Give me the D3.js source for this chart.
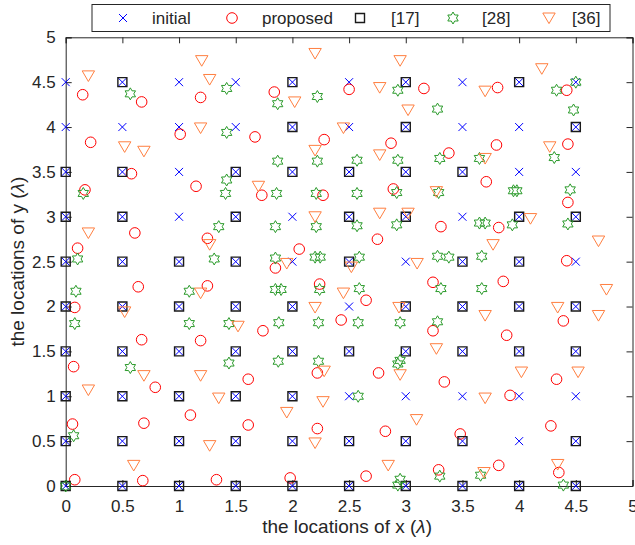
<!DOCTYPE html>
<html>
<head>
<meta charset="utf-8">
<script src="https://cdn.jsdelivr.net/npm/d3@7/dist/d3.min.js"></script>
<style>
  body { margin: 0; background: #fff; }
  text { font-family: "Liberation Sans", Arial, Helvetica, sans-serif; fill: #262626; }
</style>
</head>
<body>
<svg id="chart" width="635" height="545"></svg>
<script>
// Axis ticks (both axes share the same 0..5 range)
const tickValues = [0, 0.5, 1, 1.5, 2, 2.5, 3, 3.5, 4, 4.5, 5];
const tickLabels = ["0", "0.5", "1", "1.5", "2", "2.5", "3", "3.5", "4", "4.5", "5"];

// Series names shown in the legend
const seriesNames = ["initial", "proposed", "[17]", "[28]", "[36]"];

// Initial element positions, row by row (y = 4.5 down to 0)
const initialPts = [
  [0,4.5],[0.5,4.5],[1,4.5],[1.5,4.5],[2,4.5],[2.5,4.5],[3,4.5],[3.5,4.5],[4,4.5],[4.5,4.5],
  [0,4],[0.5,4],[1,4],[1.5,4],[2,4],[2.5,4],[3,4],[3.5,4],[4,4],[4.5,4],
  [0,3.5],[0.5,3.5],[1,3.5],[1.5,3.5],[2,3.5],[2.5,3.5],[3,3.5],[3.5,3.5],[4,3.5],[4.5,3.5],
  [0,3],[0.5,3],[1,3],[1.5,3],[2,3],[2.5,3],[3,3],[3.5,3],[4,3],[4.5,3],
  [0,2.5],[0.5,2.5],[1,2.5],[1.5,2.5],[2,2.5],[2.5,2.5],[3,2.5],[3.5,2.5],[4,2.5],[4.5,2.5],
  [0,2],[0.5,2],[1,2],[1.5,2],[2,2],[2.5,2],[3,2],[3.5,2],[4,2],[4.5,2],
  [0,1.5],[0.5,1.5],[1,1.5],[1.5,1.5],[2,1.5],[2.5,1.5],[3,1.5],[3.5,1.5],[4,1.5],[4.5,1.5],
  [0,1],[0.5,1],[1,1],[1.5,1],[2,1],[2.5,1],[3,1],[3.5,1],[4,1],[4.5,1],
  [0,0.5],[0.5,0.5],[1,0.5],[1.5,0.5],[2,0.5],[2.5,0.5],[3,0.5],[3.5,0.5],[4,0.5],[4.5,0.5],
  [0,0],[0.5,0],[1,0],[1.5,0],[2,0],[2.5,0],[3,0],[3.5,0],[4,0],[4.5,0]
];

// Proposed element positions
const proposedPts = [
  [0.15,4.36],[0.67,4.28],[1.19,4.33],[0.22,3.83],[1.01,3.92],[1.67,3.89],[0.58,3.48],
  [1.15,3.34],[0.17,3.30],[1.84,4.39],[2.50,4.42],[3.16,4.43],[2.28,3.86],[2.87,3.82],
  [3.38,3.71],[3.81,4.44],[4.42,4.41],[3.80,3.80],[4.43,3.81],[3.71,3.39],[0.61,2.82],
  [0.105,2.65],[1.25,2.76],[0.64,2.22],[1.25,2.23],[0.08,1.99],[0.67,1.63],[1.19,1.62],
  [1.73,3.24],[2.27,3.24],[2.89,3.31],[2.75,2.75],[3.31,2.89],[2.06,2.64],[1.85,2.43],
  [2.24,2.25],[2.65,2.07],[3.24,2.27],[2.43,1.85],[1.74,1.73],[3.24,1.73],[4.43,3.16],
  [3.82,2.88],[4.42,2.51],[3.86,2.28],[4.39,1.84],[3.89,1.68],[0.07,1.33],[0.79,1.10],
  [1.61,1.19],[0.69,0.70],[1.10,0.79],[0.06,0.69],[1.61,0.68],[0.08,0.07],[0.68,0.06],
  [1.33,0.07],[2.22,1.26],[2.76,1.26],[3.34,1.16],[2.22,0.64],[2.82,0.61],[1.98,0.09],
  [2.65,0.11],[3.29,0.18],[4.33,1.19],[3.92,1.01],[4.28,0.67],[3.48,0.58],[3.82,0.23],
  [4.35,0.15]
];

// Positions from reference [17]
const ref17Pts = [
  [0.5,4.5],[2,4.5],[3,4.5],[4,4.5],
  [2,4],[3,4],[4.5,4],
  [0,3.5],[0.5,3.5],[1.5,3.5],[2,3.5],[2.5,3.5],[3,3.5],[3.5,3.5],
  [0,3],[0.5,3],[1.5,3],[2.5,3],[3,3],[4,3],[4.5,3],
  [0,2.5],[0.5,2.5],[1,2.5],[1.5,2.5],[2.5,2.5],[3.5,2.5],[4,2.5],
  [0,2],[0.5,2],[1,2],[1.5,2],[2,2],[3,2],[3.5,2],[4,2],[4.5,2],
  [0,1.5],[0.5,1.5],[1,1.5],[1.5,1.5],[2,1.5],[2.5,1.5],[3,1.5],[3.5,1.5],[4,1.5],[4.5,1.5],
  [0,1],[0.5,1],[1,1],[1.5,1],[2,1],
  [0,0.5],[0.5,0.5],[1,0.5],[1.5,0.5],[2,0.5],[2.5,0.5],[3,0.5],[3.5,0.5],[4.5,0.5],
  [0,0],[0.5,0],[1,0],[1.5,0],[2,0],[2.5,0],[3,0],[3.5,0],[4,0],[4.5,0]
];

// Positions from reference [28]
const ref28Pts = [
  [0.57,4.37],[1.42,4.43],[1.42,3.94],[1.42,3.41],[0.155,3.26],[1.87,4.26],[2.22,4.34],
  [2.93,4.41],[3.28,4.20],[1.87,3.62],[2.22,3.62],[2.57,3.63],[2.93,3.63],[3.30,3.65],
  [4.33,4.41],[4.50,4.50],[4.48,4.19],[3.65,3.65],[4.31,3.66],[3.95,3.29],[3.98,3.29],
  [4.45,3.30],[1.41,3.26],[0.105,2.53],[1.35,2.89],[1.31,2.53],[0.09,2.17],[1.09,2.17],
  [0.08,1.81],[1.09,1.81],[1.44,1.81],[1.86,3.26],[2.21,3.26],[2.57,3.26],[2.92,3.27],
  [3.29,3.27],[1.85,2.89],[2.21,2.89],[2.57,2.90],[2.92,2.91],[1.85,2.54],[2.20,2.55],
  [2.245,2.55],[2.59,2.55],[3.28,2.56],[3.38,2.55],[1.85,2.19],[1.90,2.19],[2.24,2.19],
  [2.59,2.20],[3.31,2.20],[1.88,1.82],[2.23,1.82],[2.58,1.82],[2.95,1.82],[3.28,1.83],
  [3.65,2.93],[3.70,2.93],[3.94,2.91],[4.43,2.92],[3.67,2.56],[3.67,2.20],[0.57,1.32],
  [1.44,1.37],[0.07,0.56],[0,0],[1.875,1.39],[2.23,1.39],[2.95,1.40],[2.93,1.36],
  [2.58,1.00],[3.30,0.11],[2.95,0.075],[2.93,0.01],[3.66,0.12],[4.39,0.01]
];

// Positions from reference [36]
const ref36Pts = [
  [0.20,4.57],[1.20,4.74],[1.27,4.53],[0.52,3.78],[0.69,3.73],[1.19,3.99],[1.70,3.34],
  [2.20,4.82],[2.95,4.74],[2.02,4.28],[2.77,4.44],[3.02,4.19],[2.45,3.99],[2.20,3.74],
  [2.77,3.69],[3.70,4.40],[4.20,4.65],[3.70,3.65],[4.27,3.78],[0.20,2.82],[1.27,2.69],
  [1.19,2.15],[0.52,1.94],[1.52,1.78],[3.02,3.04],[2.20,3.00],[2.77,3.04],[1.95,2.48],
  [2.52,2.44],[3.10,2.48],[2.45,2.15],[2.94,1.99],[2.20,1.99],[3.27,3.28],[4.10,2.98],
  [3.77,2.69],[4.70,2.73],[4.77,2.19],[4.34,1.99],[3.70,1.90],[4.70,1.90],[0.69,1.23],
  [1.19,1.23],[0.20,1.07],[1.35,0.98],[1.27,0.45],[0.60,0.23],[2.28,1.28],[2.95,1.24],
  [3.27,1.53],[2.27,0.94],[1.95,0.82],[3.095,0.74],[2.20,0.48],[2.845,0.23],[4.02,1.27],
  [4.52,1.27],[3.70,0.98],[3.69,0.15],[4.34,0.24]
];

const svg = d3.select("#chart");
const plot = { left: 65.7, right: 632.5, top: 37.3, bottom: 486 };

const x = d3.scaleLinear().domain([0, 5]).range([plot.left, plot.right]);
const y = d3.scaleLinear().domain([0, 5]).range([plot.bottom, plot.top]);

const axisColor = "#262626";
const tickFmt = (d) => tickLabels[tickValues.indexOf(d)];

// Marker shapes (centered at the origin)
const markers = {
  cross: "M-4,-4L4,4M-4,4L4,-4",
  square: "M-4.5,-4.5H4.5V4.5H-4.5Z",
  triangle: "M-6.2,-5H6.2L0,5.6Z",
  hexagram: (() => {
    const R = 6, r = R / Math.sqrt(3), pts = [];
    for (let i = 0; i < 12; i++) {
      const a = -Math.PI / 2 + i * Math.PI / 6;
      const rad = i % 2 === 0 ? R : r;
      pts.push([rad * Math.cos(a), rad * Math.sin(a)]);
    }
    return "M" + pts.map(p => p[0].toFixed(2) + "," + p[1].toFixed(2)).join("L") + "Z";
  })()
};

const styles = [
  { name: seriesNames[0], data: initialPts, kind: "path", d: markers.cross, color: "#0000ff", width: 1 },
  { name: seriesNames[1], data: proposedPts, kind: "circle", r: 5.3, color: "#ff0000", width: 1 },
  { name: seriesNames[2], data: ref17Pts, kind: "path", d: markers.square, color: "#1a1a1a", width: 1.4 },
  { name: seriesNames[3], data: ref28Pts, kind: "path", d: markers.hexagram, color: "#2a9a2a", width: 1 },
  { name: seriesNames[4], data: ref36Pts, kind: "path", d: markers.triangle, color: "#ff7f40", width: 1 }
];

// Axes: ticks point inward on all four sides
const gx = svg.append("g").attr("transform", `translate(0,${plot.bottom})`)
  .call(d3.axisBottom(x).tickValues(tickValues).tickFormat(tickFmt).tickSize(-6).tickPadding(14));
const gxTop = svg.append("g").attr("transform", `translate(0,${plot.top})`)
  .call(d3.axisTop(x).tickValues(tickValues).tickFormat("").tickSize(-6));
const gy = svg.append("g").attr("transform", `translate(${plot.left},0)`)
  .call(d3.axisLeft(y).tickValues(tickValues).tickFormat(tickFmt).tickSize(-6).tickPadding(10));
const gyRight = svg.append("g").attr("transform", `translate(${plot.right},0)`)
  .call(d3.axisRight(y).tickValues(tickValues).tickFormat("").tickSize(-6));

[gx, gxTop, gy, gyRight].forEach(g => {
  g.select(".domain").attr("stroke", axisColor).attr("stroke-width", 1);
  g.selectAll(".tick line").attr("stroke", axisColor).attr("stroke-width", 1);
  g.selectAll(".tick text").attr("fill", axisColor)
    .style("font-size", "17px").style("font-family", "'Liberation Sans', Arial, sans-serif");
});

// Data marks
const marks = svg.append("g");
styles.forEach(s => {
  const g = marks.append("g");
  if (s.kind === "circle") {
    g.selectAll("circle").data(s.data).join("circle")
      .attr("cx", d => x(d[0])).attr("cy", d => y(d[1])).attr("r", s.r)
      .attr("fill", "none").attr("stroke", s.color).attr("stroke-width", s.width);
  } else {
    g.selectAll("path").data(s.data).join("path")
      .attr("d", s.d)
      .attr("transform", d => `translate(${x(d[0])},${y(d[1])})`)
      .attr("fill", "none").attr("stroke", s.color).attr("stroke-width", s.width);
  }
});

// Axis titles
const xt = svg.append("text")
  .attr("x", (plot.left + plot.right) / 2 - 2).attr("y", 533)
  .attr("text-anchor", "middle").style("font-size", "19px");
xt.append("tspan").text("the locations of x (");
xt.append("tspan").style("font-style", "italic").text("λ");
xt.append("tspan").text(")");

const yt = svg.append("text")
  .attr("transform", `translate(24,${(plot.top + plot.bottom) / 2}) rotate(-90)`)
  .attr("text-anchor", "middle").style("font-size", "19px");
yt.append("tspan").text("the locations of y (");
yt.append("tspan").style("font-style", "italic").text("λ");
yt.append("tspan").text(")");

// Legend
const legend = svg.append("g");
legend.append("rect").attr("x", 92).attr("y", 4.5).attr("width", 518).attr("height", 27)
  .attr("fill", "#fff").attr("stroke", axisColor).attr("stroke-width", 1);
const legendItems = [
  { mx: 123, tx: 152 },
  { mx: 232, tx: 262 },
  { mx: 360, tx: 391 },
  { mx: 453, tx: 482 },
  { mx: 549, tx: 572 }
];
styles.forEach((s, i) => {
  const it = legendItems[i], cy = 18;
  if (s.kind === "circle") {
    legend.append("circle").attr("cx", it.mx).attr("cy", cy).attr("r", s.r)
      .attr("fill", "none").attr("stroke", s.color).attr("stroke-width", s.width);
  } else {
    legend.append("path").attr("d", s.d).attr("transform", `translate(${it.mx},${cy})`)
      .attr("fill", "none").attr("stroke", s.color).attr("stroke-width", s.width);
  }
  legend.append("text").attr("x", it.tx).attr("y", cy).attr("dy", "0.36em")
    .style("font-size", "17px").text(s.name);
});
</script>
</body>
</html>
